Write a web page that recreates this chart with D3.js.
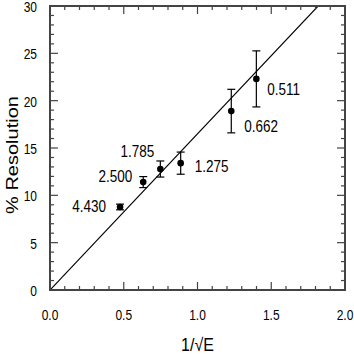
<!DOCTYPE html>
<html>
<head>
<meta charset="utf-8">
<script src="https://cdn.jsdelivr.net/npm/d3@7"></script>
<style>
  body { margin: 0; background: #fff; }
  text { font-family: "Liberation Sans", Arial, sans-serif; fill: #000; }
</style>
</head>
<body>
<svg id="chart" width="354" height="354"></svg>
<script>
// energies (MeV) and measured resolution
const energies = ["4.430", "2.500", "1.785", "1.275", "0.662", "0.511"];
const invSqrtE = [0.475, 0.632, 0.748, 0.886, 1.229, 1.399];
const resolution = [8.77, 11.4, 12.78, 13.4, 18.9, 22.3];
const resError = [0.3, 0.58, 0.85, 1.17, 2.3, 2.96];
const fitSlope = 16.5;
const xTicks = [0, 0.5, 1.0, 1.5, 2.0];
const yTicks = [0, 5, 10, 15, 20, 25, 30];
// label placement relative to point: dx, dy, anchor
const labelOffsets = [[-14, 5, "end"], [-11, 0, "end"], [-6, -12, "end"], [14, 9, "start"], [13, 21, "start"], [11, 16, "start"]];

const svg = d3.select("#chart");
const margin = { top: 6, right: 9, bottom: 64, left: 50 };
const w = 354 - margin.left - margin.right;
const h = 354 - margin.top - margin.bottom;

const x = d3.scaleLinear().domain([0, 2]).range([0, w]);
const y = d3.scaleLinear().domain([0, 30]).range([h, 0]);

const g = svg.append("g").attr("transform", `translate(${margin.left},${margin.top})`);

// tall, narrow-looking text like the original plotting font
function tallText(parent, px, py, str, size, sy, anchor) {
  return parent.append("text")
    .attr("transform", `translate(${px},${py}) scale(1,${sy})`)
    .attr("text-anchor", anchor || "start")
    .attr("font-size", size)
    .text(str);
}

// fit line, clipped to plot
g.append("clipPath").attr("id", "clip").append("rect").attr("width", w).attr("height", h);
g.append("line")
  .attr("clip-path", "url(#clip)")
  .attr("x1", x(0)).attr("y1", y(0))
  .attr("x2", x(2)).attr("y2", y(2 * fitSlope))
  .attr("stroke", "#000").attr("stroke-width", 1.2);

// minor + major ticks (inward) on all four sides
const tickColor = "#444";
const xMinor = d3.range(0, 2.001, 0.1);
const yMinor = d3.range(0, 30.001, 1);
function isMajor(v, step) { return Math.abs(v / step - Math.round(v / step)) < 1e-6; }
xMinor.forEach(v => {
  const len = isMajor(v, 0.5) ? 8 : 4;
  g.append("line").attr("x1", x(v)).attr("x2", x(v)).attr("y1", h).attr("y2", h - len)
    .attr("stroke", tickColor).attr("stroke-width", 1.2);
  g.append("line").attr("x1", x(v)).attr("x2", x(v)).attr("y1", 0).attr("y2", len)
    .attr("stroke", tickColor).attr("stroke-width", 1.2);
});
yMinor.forEach(v => {
  const len = isMajor(v, 5) ? 8 : 4;
  g.append("line").attr("y1", y(v)).attr("y2", y(v)).attr("x1", 0).attr("x2", len)
    .attr("stroke", tickColor).attr("stroke-width", 1.2);
  g.append("line").attr("y1", y(v)).attr("y2", y(v)).attr("x1", w).attr("x2", w - len)
    .attr("stroke", tickColor).attr("stroke-width", 1.2);
});

g.append("rect").attr("width", w).attr("height", h)
  .attr("fill", "none").attr("stroke", tickColor).attr("stroke-width", 2);

// tick labels
xTicks.forEach(d => tallText(g, x(d), h + 30, d.toFixed(1), 12, 1.2, "middle"));
yTicks.forEach(d => tallText(g, -13, y(d) + 6, String(d), 12, 1.15, "end"));

// axis titles
svg.append("text")
  .attr("transform", `translate(18,155) rotate(-90) scale(1.25,1)`)
  .attr("text-anchor", "middle").attr("font-size", 16)
  .text("% Resolution");
tallText(svg, margin.left + w / 2, 351, "1/\u221AE", 16, 1.1, "middle");

// error bars
const pts = invSqrtE.map((v, i) => ({ x: v, y: resolution[i], e: resError[i], label: energies[i], off: labelOffsets[i] }));
const cap = 4;
pts.forEach(p => {
  const px = x(p.x);
  g.append("line").attr("x1", px).attr("x2", px).attr("y1", y(p.y - p.e)).attr("y2", y(p.y + p.e))
    .attr("stroke", "#000").attr("stroke-width", 1.2);
  [p.y - p.e, p.y + p.e].forEach(v => {
    g.append("line").attr("x1", px - cap).attr("x2", px + cap).attr("y1", y(v)).attr("y2", y(v))
      .attr("stroke", "#000").attr("stroke-width", 1.2);
  });
});

g.selectAll(".pt").data(pts).enter().append("circle")
  .attr("cx", d => x(d.x)).attr("cy", d => y(d.y)).attr("r", 3.3).attr("fill", "#000");

pts.forEach(p => tallText(g, x(p.x) + p.off[0], y(p.y) + p.off[1], p.label, 13.5, 1.25, p.off[2]));
</script>
</body>
</html>
